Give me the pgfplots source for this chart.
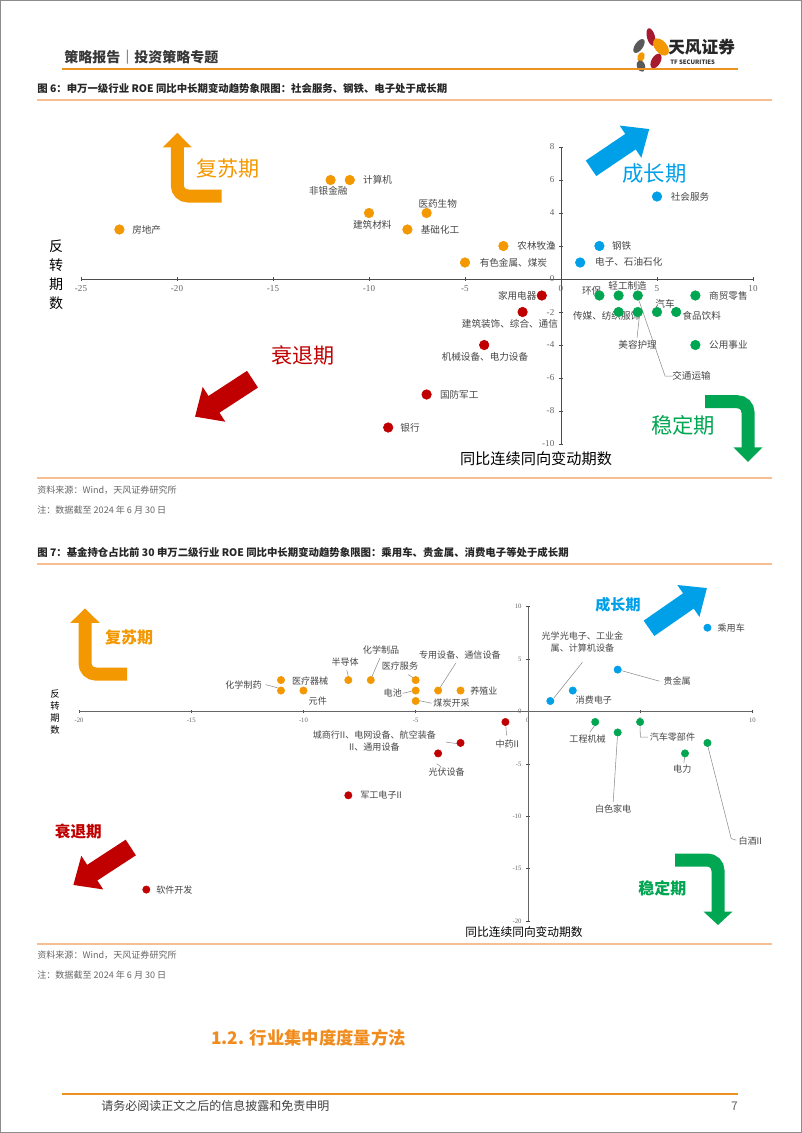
\documentclass[border=0pt]{standalone}
\usepackage{pgfplots}
\pgfplotsset{compat=1.18}
\usepackage{fontspec}
\setmainfont{Noto Sans CJK SC}
\newfontfamily\tnr{Liberation Serif}
\usetikzlibrary{arrows.meta}
\definecolor{corange}{RGB}{243,152,0}
\definecolor{cblue}{RGB}{0,160,233}
\definecolor{cred}{RGB}{192,0,0}
\definecolor{cgreen}{RGB}{0,166,81}
\definecolor{hline}{RGB}{237,145,33}
\definecolor{capline}{RGB}{246,190,145}
\definecolor{dred}{RGB}{166,25,46}
\definecolor{secor}{RGB}{240,140,30}
\newcommand{\fs}[1]{\fontsize{#1}{#1}\selectfont}
\pgfplotsset{
  quad/.style={
    axis lines=middle,
    axis line style={-, draw=black!70, line width=0.6pt},
    enlargelimits=false,
    scale only axis,
    clip=false,
    hide obscured x ticks=false,
    hide obscured y ticks=false,
    tick style={draw=black!70, line width=0.5pt},
    major tick length=3pt,
    tick align=center,
    /pgf/number format/assume math mode=true,
  },
}
\tikzset{
  lbl/.style={font=\fs{7.2}, text=black!72, inner sep=0pt},
  lblb/.style={font=\fs{6.8}, text=black!72, inner sep=0pt},
  ldr/.style={draw=black!45, line width=0.4pt},
}
\begin{document}
\begin{tikzpicture}[x=0.75pt,y=-0.75pt]
\useasboundingbox (0,0) rectangle (802,1133);
\fill[white] (0,0) rectangle (802,1133);
\draw[black!45, line width=0.75pt] (0.5,0.5) rectangle (801.5,1132.5);

% ---------- header ----------
\node[anchor=west, font=\fs{10.5}\bfseries, text=black!78, inner sep=0pt] at (64,57) {策略报告｜投资策略专题};
\fill[dred, rotate around={15:(651,37)}] (651,37) ellipse (4 and 9);
\fill[corange, rotate around={40:(661,47)}] (661,47) ellipse (6 and 10);
\fill[black!65, rotate around={-35:(639,46)}] (639,46) ellipse (4 and 8);
\fill[corange, rotate around={-20:(641,57)}] (641,57) ellipse (3.5 and 5);
\fill[dred, rotate around={-30:(656,61)}] (656,61) ellipse (4.5 and 8);
\fill[black!65, rotate around={20:(641,66)}] (641,66) ellipse (4 and 6);
\node[anchor=west, font=\fs{12.5}\bfseries, text=black!85, inner sep=0pt] at (668,47) {天风证券};
\node[anchor=west, font=\fs{4.5}\bfseries, text=black!80, inner sep=0pt] at (670,62) {TF SECURITIES};
\draw[hline, line width=1.5pt] (62,69) -- (738,69);

% ---------- caption 1 ----------
\node[anchor=west, font=\fs{7.8}\bfseries, text=black!85, inner sep=0pt] at (37,89) {图 6：申万一级行业 ROE 同比中长期变动趋势象限图：社会服务、钢铁、电子处于成长期};
\draw[capline, line width=1.2pt] (37,100) -- (772,100);

% ---------- chart 1 decorations ----------
\draw[corange, line width=9.75pt, rounded corners=8pt, -{Triangle[length=11pt,width=21pt]}] (221.7,196) -- (177.3,196) -- (177.3,132.7);
\draw[cblue, line width=14pt, -{Triangle[length=17pt,width=28pt]}] (591,168.3) -- (649.3,129);
\draw[cred, line width=15pt, -{Triangle[length=17pt,width=30pt]}] (252.5,379.2) -- (195,416.7);
\draw[cgreen, line width=9.75pt, rounded corners=8pt, -{Triangle[length=11pt,width=21pt]}] (705,401.7) -- (748,401.7) -- (748,462);
\node[font=\fs{15.8}, text=corange] at (228.3,168.3) {复苏期};
\node[font=\fs{16}, text=cblue] at (654.5,173) {成长期};
\node[font=\fs{15.8}, text=cred] at (303.3,355) {衰退期};
\node[font=\fs{16}, text=cgreen] at (683.3,425) {稳定期};
\node[text=black, align=center, inner sep=0pt, font=\fontsize{10.5}{14.2}\selectfont] at (56,275) {反\\转\\期\\数};
\node[font=\fs{11.4}, text=black, inner sep=0pt] at (536,459) {同比连续同向变动期数};

\begin{axis}[quad, at={(60.75pt,-333pt)}, anchor=south west, width=504pt, height=222.75pt,
  xmin=-25, xmax=10, ymin=-10, ymax=8,
  xtick={-25,-20,...,10}, ytick={-10,-8,...,8},
  ticklabel style={font=\tnr\fs{6.8}, text=black!60},
]
\addplot[only marks, mark=*, mark size=3.6pt, mark options={draw=corange, fill=corange}] coordinates {
  (-23,3) (-12,6) (-11,6) (-10,4) (-8,3) (-7,4) (-3,2) (-5,1)};
\addplot[only marks, mark=*, mark size=3.6pt, mark options={draw=cblue, fill=cblue}] coordinates {
  (5,5) (2,2) (1,1)};
\addplot[only marks, mark=*, mark size=3.6pt, mark options={draw=cred, fill=cred}] coordinates {
  (-1,-1) (-2,-2) (-4,-4) (-7,-7) (-9,-9)};
\addplot[only marks, mark=*, mark size=3.6pt, mark options={draw=cgreen, fill=cgreen}] coordinates {
  (2,-1) (3,-1) (4,-1) (7,-1) (3,-2) (4,-2) (5,-2) (6,-2) (7,-4)};
\node[lbl] at (axis cs:-21.58,2.97) {房地产};
\node[lbl] at (axis cs:-12.12,5.33) {非银金融};
\node[lbl] at (axis cs:-9.55,6.0) {计算机};
\node[lbl] at (axis cs:-9.83,3.27) {建筑材料};
\node[lbl] at (axis cs:-6.42,4.55) {医药生物};
\node[lbl] at (axis cs:-6.3,2.97) {基础化工};
\node[lbl] at (axis cs:-1.27,2.0) {农林牧渔};
\node[lbl] at (axis cs:-2.48,1.01) {有色金属、煤炭};
\node[lbl] at (axis cs:6.72,4.99) {社会服务};
\node[lbl] at (axis cs:3.16,2.0) {钢铁};
\node[lbl] at (axis cs:3.53,1.01) {电子、石油石化};
\node[lbl] at (axis cs:-2.28,-1.01) {家用电器};
\node[lbl] at (axis cs:-2.66,-2.69) {建筑装饰、综合、通信};
\node[lbl] at (axis cs:-3.96,-4.71) {机械设备、电力设备};
\node[lbl] at (axis cs:-5.3,-7.03) {国防军工};
\node[lbl] at (axis cs:-7.86,-9.01) {银行};
\node[lbl] at (axis cs:1.6,-0.73) {环保};
\node[lbl] at (axis cs:3.47,-0.4) {轻工制造};
\node[lbl] at (axis cs:5.42,-1.52) {汽车};
\node[lbl] at (axis cs:8.72,-1.01) {商贸零售};
\node[lbl] at (axis cs:2.38,-2.22) {传媒、纺织服饰};
\node[lbl] at (axis cs:7.33,-2.24) {食品饮料};
\node[lbl] at (axis cs:3.99,-3.96) {美容护理};
\node[lbl] at (axis cs:6.8,-5.88) {交通运输};
\node[lbl] at (axis cs:8.72,-4.02) {公用事业};
\draw[ldr] (axis cs:4.08,-2.28) -- (axis cs:3.96,-3.58);
\draw[ldr] (axis cs:4.05,-1.27) -- (axis cs:5.42,-5.88) -- (axis cs:5.83,-5.88);
\end{axis}

% ---------- source 1 ----------
\draw[capline, line width=1.2pt] (37,478) -- (772,478);
\node[anchor=west, font=\fs{6.8}, text=black!60, inner sep=0pt] at (37,490) {资料来源：Wind，天风证券研究所};
\node[anchor=west, font=\fs{6.8}, text=black!60, inner sep=0pt] at (37,510) {注：数据截至 2024 年 6 月 30 日};

% ---------- caption 2 ----------
\node[anchor=west, font=\fs{7.8}\bfseries, text=black!85, inner sep=0pt] at (37,553) {图 7：基金持仓占比前 30 申万二级行业 ROE 同比中长期变动趋势象限图：乘用车、贵金属、消费电子等处于成长期};
\draw[capline, line width=1.2pt] (37,564) -- (772,564);

% ---------- chart 2 decorations ----------
\draw[corange, line width=9.75pt, rounded corners=8pt, -{Triangle[length=11pt,width=21.5pt]}] (127,674) -- (85,674) -- (85,608.3);
\draw[cblue, line width=14pt, -{Triangle[length=17pt,width=28pt]}] (649,628.3) -- (707,588);
\draw[cred, line width=14pt, -{Triangle[length=17pt,width=29pt]}] (130.8,847.5) -- (73.3,885);
\draw[cgreen, line width=9.75pt, rounded corners=8pt, -{Triangle[length=10pt,width=21pt]}] (675,860) -- (718,860) -- (718,925);
\node[font=\fs{12}\bfseries, text=corange] at (129,637) {复苏期};
\node[font=\fs{11.3}\bfseries, text=cblue] at (618,605) {成长期};
\node[font=\fs{11.7}\bfseries, text=cred] at (78.3,831.7) {衰退期};
\node[font=\fs{12}\bfseries, text=cgreen] at (662.3,888.3) {稳定期};
\node[text=black, align=center, inner sep=0pt, font=\fontsize{7}{9}\selectfont] at (55,711.5) {反\\转\\期\\数};
\node[font=\fs{8.8}, text=black, inner sep=0pt] at (524,932) {同比连续同向变动期数};

\begin{axis}[quad, at={(59.25pt,-690.75pt)}, anchor=south west, width=505pt, height=235.7pt,
  xmin=-20, xmax=10, ymin=-20, ymax=10,
  xtick={-20,-15,...,10}, ytick={-20,-15,...,10},
  ticklabel style={font=\tnr\fs{5}, text=black!60},
  axis line style={-, draw=black!60, line width=0.5pt},
  major tick length=2.5pt,
]
\addplot[only marks, mark=*, mark size=2.75pt, mark options={draw=corange, fill=corange}] coordinates {
  (-11,3) (-11,2) (-10,2) (-8,3) (-7,3) (-5,3) (-5,2) (-5,1) (-4,2) (-3,2)};
\addplot[only marks, mark=*, mark size=2.75pt, mark options={draw=cblue, fill=cblue}] coordinates {
  (1,1) (2,2) (4,4) (8,8)};
\addplot[only marks, mark=*, mark size=2.75pt, mark options={draw=cred, fill=cred}] coordinates {
  (-1,-1) (-3,-3) (-4,-4) (-8,-8) (-17,-17)};
\addplot[only marks, mark=*, mark size=2.75pt, mark options={draw=cgreen, fill=cgreen}] coordinates {
  (3,-1) (4,-2) (5,-1) (7,-4) (8,-3)};
\node[lblb] at (axis cs:-12.67,2.57) {化学制药};
\node[lblb] at (axis cs:-9.7,2.95) {医疗器械};
\node[lblb] at (axis cs:-9.36,0.95) {元件};
\node[lblb] at (axis cs:-8.14,4.76) {半导体};
\node[lblb] at (axis cs:-6.54,5.87) {化学制品};
\node[lblb] at (axis cs:-5.7,4.35) {医疗服务};
\node[lblb] at (axis cs:-6.02,1.74) {电池};
\node[lblb] at (axis cs:-3.4,0.79) {煤炭开采};
\node[lblb] at (axis cs:-3.03,5.43) {专用设备、通信设备};
\node[lblb] at (axis cs:-1.96,1.93) {养殖业};
\node[lblb, align=center, font=\fontsize{6.8}{9}\selectfont] at (axis cs:-6.84,-2.81) {城商行II、电网设备、航空装备\\II、通用设备};
\node[lblb] at (axis cs:-3.62,-5.78) {光伏设备};
\node[lblb] at (axis cs:-6.54,-8.0) {军工电子II};
\node[lblb] at (axis cs:-0.92,-3.08) {中药II};
\node[lblb] at (axis cs:-15.75,-17.05) {软件开发};
\node[lblb] at (axis cs:9.06,7.97) {乘用车};
\node[lblb, align=center, font=\fontsize{6.8}{9}\selectfont] at (axis cs:2.43,6.6) {光学光电子、工业金\\属、计算机设备};
\node[lblb] at (axis cs:6.65,2.89) {贵金属};
\node[lblb] at (axis cs:2.94,1.14) {消费电子};
\node[lblb] at (axis cs:2.66,-2.67) {工程机械};
\node[lblb] at (axis cs:3.8,-9.27) {白色家电};
\node[lblb] at (axis cs:6.44,-2.48) {汽车零部件};
\node[lblb] at (axis cs:6.88,-5.46) {电力};
\node[lblb] at (axis cs:9.91,-12.35) {白酒II};
\draw[ldr] (axis cs:-11.69,2.57) -- (axis cs:-11.15,2.26);
\draw[ldr] (axis cs:-8.07,3.97) -- (axis cs:-8.0,3.33);
\draw[ldr] (axis cs:-6.59,5.11) -- (axis cs:-6.96,3.27);
\draw[ldr] (axis cs:-5.33,3.52) -- (axis cs:-5.1,3.2);
\draw[ldr] (axis cs:-5.58,1.74) -- (axis cs:-5.18,1.93);
\draw[ldr] (axis cs:-4.88,1.05) -- (axis cs:-4.29,0.79);
\draw[ldr] (axis cs:-3.22,4.6) -- (axis cs:-3.92,2.26);
\draw[ldr] (axis cs:-3.65,-2.92) -- (axis cs:-3.1,-3.08);
\draw[ldr] (axis cs:-4.06,-4.98) -- (axis cs:-3.86,-5.3);
\draw[ldr] (axis cs:-0.98,-1.43) -- (axis cs:-0.95,-2.29);
\draw[ldr] (axis cs:2.43,4.7) -- (axis cs:1.16,1.3);
\draw[ldr] (axis cs:4.17,3.9) -- (axis cs:5.87,2.89);
\draw[ldr] (axis cs:2.98,-1.33) -- (axis cs:2.76,-1.97);
\draw[ldr] (axis cs:3.99,-2.38) -- (axis cs:3.8,-8.64);
\draw[ldr] (axis cs:5.0,-1.33) -- (axis cs:5.01,-2.45) -- (axis cs:5.35,-2.45);
\draw[ldr] (axis cs:6.99,-4.33) -- (axis cs:6.95,-4.9);
\draw[ldr] (axis cs:8.02,-3.33) -- (axis cs:9.06,-12.13) -- (axis cs:9.29,-12.29);
\end{axis}

% ---------- source 2 ----------
\draw[capline, line width=1.2pt] (37,944) -- (772,944);
\node[anchor=west, font=\fs{6.8}, text=black!60, inner sep=0pt] at (37,955) {资料来源：Wind，天风证券研究所};
\node[anchor=west, font=\fs{6.8}, text=black!60, inner sep=0pt] at (37,975) {注：数据截至 2024 年 6 月 30 日};

% ---------- section heading & footer ----------
\node[anchor=west, font=\fs{13}\bfseries, text=secor, inner sep=0pt] at (211,1038) {1.2. 行业集中度度量方法};
\draw[hline, line width=1.5pt] (62,1094) -- (738,1094);
\node[anchor=west, font=\fs{9}, text=black!75, inner sep=0pt] at (101,1106) {请务必阅读正文之后的信息披露和免责申明};
\node[anchor=east, font=\fs{9}, text=black!60, inner sep=0pt] at (738,1106) {7};
\end{tikzpicture}
\end{document}
